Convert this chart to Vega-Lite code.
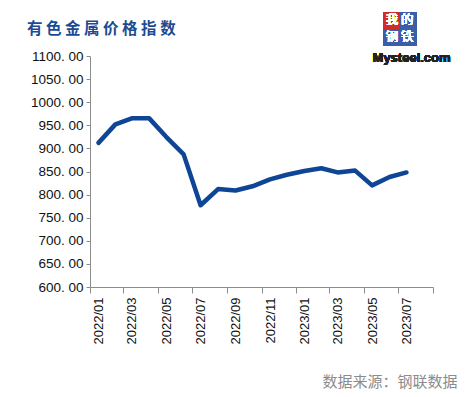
{
  "$schema": "https://vega.github.io/schema/vega-lite/v6.json",
  "autosize": {"type": "none"},
  "width": 343,
  "height": 231,
  "padding": {"left": 90, "top": 56, "right": 32, "bottom": 110},
  "background": "white",
  "title": {
    "text": "有 色 金 属 价 格 指 数",
    "anchor": "start",
    "frame": "group",
    "font": "Noto Sans CJK SC",
    "fontSize": 15.5,
    "fontWeight": "bold",
    "color": "#1b4b92",
    "dx": -63,
    "dy": 29
  },
  "config": {"view": {"stroke": null}, "axis": {"labelOverlap": false}},
  "resolve": {"axis": {"x": "independent", "y": "independent"}},
  "data": {
    "values": [
      {"month": "2022-01-16", "value": 912},
      {"month": "2022-02-15", "value": 952},
      {"month": "2022-03-16", "value": 965},
      {"month": "2022-04-16", "value": 965},
      {"month": "2022-05-16", "value": 925},
      {"month": "2022-06-16", "value": 887},
      {"month": "2022-07-16", "value": 777},
      {"month": "2022-08-16", "value": 812},
      {"month": "2022-09-16", "value": 809},
      {"month": "2022-10-16", "value": 818},
      {"month": "2022-11-16", "value": 833},
      {"month": "2022-12-16", "value": 843},
      {"month": "2023-01-16", "value": 851},
      {"month": "2023-02-15", "value": 857},
      {"month": "2023-03-16", "value": 848},
      {"month": "2023-04-16", "value": 852},
      {"month": "2023-05-16", "value": 820},
      {"month": "2023-06-16", "value": 838},
      {"month": "2023-07-16", "value": 848}
    ]
  },
  "layer": [
    {
      "mark": {"type": "line", "color": "#0e4595", "strokeWidth": 4.5, "strokeJoin": "round", "strokeCap": "round"},
      "encoding": {
        "x": {
          "field": "month",
          "type": "temporal",
          "scale": {"type": "utc", "domain": [{"year": 2022, "month": 1, "date": 1, "utc": true}, {"year": 2023, "month": 9, "date": 1, "utc": true}]},
          "axis": {
            "values": [
              {"year": 2022, "month": 1, "date": 1, "utc": true},
              {"year": 2022, "month": 3, "date": 1, "utc": true},
              {"year": 2022, "month": 5, "date": 1, "utc": true},
              {"year": 2022, "month": 7, "date": 1, "utc": true},
              {"year": 2022, "month": 9, "date": 1, "utc": true},
              {"year": 2022, "month": 11, "date": 1, "utc": true},
              {"year": 2023, "month": 1, "date": 1, "utc": true},
              {"year": 2023, "month": 3, "date": 1, "utc": true},
              {"year": 2023, "month": 5, "date": 1, "utc": true},
              {"year": 2023, "month": 7, "date": 1, "utc": true},
              {"year": 2023, "month": 9, "date": 1, "utc": true}
            ],
            "labelExpr": "utcyear(datum.value) == 2023 && utcmonth(datum.value) == 8 ? '' : utcFormat(datum.value, '%Y/%m')",
            "labelAngle": -90,
            "labelAlign": "right",
            "labelBaseline": "middle",
            "labelOffset": 8.5,
            "labelPadding": 4,
            "labelFont": "Liberation Sans",
            "labelFontSize": 13,
            "labelColor": "#111",
            "labelOverlap": false,
            "labelFlush": false,
            "tickSize": 6,
            "tickColor": "#8c8c8c",
            "domainColor": "#8c8c8c",
            "grid": false,
            "title": "数据来源：钢联数据",
            "titleFont": "Noto Sans CJK SC",
            "titleFontSize": 15,
            "titleFontWeight": "normal",
            "titleColor": "#8c8c8c",
            "titleAlign": "right",
            "titleAnchor": null,
            "titleX": 367,
            "titleY": 99,
            "titleBaseline": "alphabetic"
          }
        },
        "y": {
          "field": "value",
          "type": "quantitative",
          "scale": {"domain": [600, 1100], "nice": false, "zero": false},
          "axis": {
            "values": [600, 650, 700, 750, 800, 850, 900, 950, 1000, 1050, 1100],
            "labelExpr": "replace(format(datum.value, '.2f'), '.', '. ')",
            "labelFont": "Liberation Sans",
            "labelFontSize": 13.5,
            "labelColor": "#111",
            "labelPadding": 3,
            "labelOverlap": false,
            "tickSize": 4,
            "tickColor": "#8c8c8c",
            "domainColor": "#8c8c8c",
            "grid": false,
            "title": null
          }
        }
      }
    },
    {
      "mark": {"type": "rect", "color": "#3a5fa8", "clip": false},
      "encoding": {
        "x": {"datum": {"year": 2023, "month": 6, "date": 5, "utc": true}, "type": "temporal", "axis": null},
        "x2": {"datum": {"year": 2023, "month": 8, "date": 3, "utc": true}},
        "y": {"datum": 1195, "type": "quantitative", "axis": null},
        "y2": {"datum": 1122}
      }
    },
    {
      "mark": {"type": "rect", "color": "#d62b2b", "clip": false},
      "encoding": {
        "x": {"datum": {"year": 2023, "month": 6, "date": 5, "utc": true}, "type": "temporal", "axis": null},
        "x2": {"datum": {"year": 2023, "month": 7, "date": 4, "utc": true}},
        "y": {"datum": 1195, "type": "quantitative", "axis": null},
        "y2": {"datum": 1159}
      }
    },
    {
      "mark": {"type": "text", "text": "我 的", "color": "white", "font": "Noto Sans CJK SC", "fontWeight": "normal", "fontSize": 12.5, "baseline": "middle", "align": "center"},
      "encoding": {
        "x": {"datum": {"year": 2023, "month": 7, "date": 4, "utc": true}, "type": "temporal", "axis": null},
        "y": {"datum": 1177, "type": "quantitative", "axis": null}
      }
    },
    {
      "mark": {"type": "text", "text": "钢 铁", "color": "white", "font": "Noto Sans CJK SC", "fontWeight": "normal", "fontSize": 12.5, "baseline": "middle", "align": "center"},
      "encoding": {
        "x": {"datum": {"year": 2023, "month": 7, "date": 4, "utc": true}, "type": "temporal", "axis": null},
        "y": {"datum": 1141, "type": "quantitative", "axis": null}
      }
    },
    {
      "mark": {"type": "text", "text": "Mysteel.com", "color": "#222", "font": "Liberation Sans", "fontWeight": "bold", "fontSize": 13, "baseline": "alphabetic", "align": "center"},
      "encoding": {
        "x": {"datum": {"year": 2023, "month": 7, "date": 25, "utc": true}, "type": "temporal", "axis": null},
        "y": {"datum": 1087, "type": "quantitative", "axis": null}
      }
    }
  ]
}
